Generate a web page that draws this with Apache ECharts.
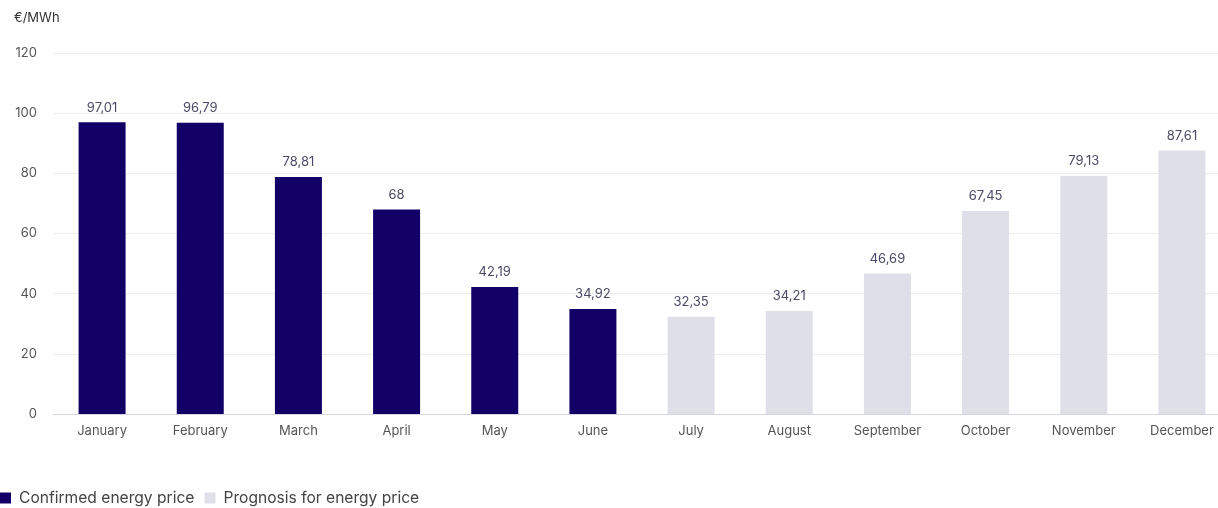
<!DOCTYPE html>
<html><head><meta charset="utf-8">
<script src="https://cdn.jsdelivr.net/npm/echarts@6/dist/echarts.min.js"></script>
<style>html,body{margin:0;padding:0;background:#fff}#c{width:1218px;height:508px}</style>
</head><body><div id="c"></div>
<script>
const categories = ['January','February','March','April','May','June','July','August','September','October','November','December'];
const confirmed = [97.01, 96.79, 78.81, 68, 42.19, 34.92, null, null, null, null, null, null];
const prognosis = [null, null, null, null, null, null, 32.35, 34.21, 46.69, 67.45, 79.13, 87.61];
const yTicks = {min: 0, max: 120, interval: 20};
const unitLabel = '€/MWh';

const fmt = p => String(p.value).replace('.', ',');
const labelStyle = {show: true, position: 'top', distance: 8, color: '#4a4a66', fontSize: 13, fontFamily: 'Inter', formatter: fmt};

const chart = echarts.init(document.getElementById('c'), null, {renderer: 'canvas'});
chart.setOption({
  animation: false,
  textStyle: {fontFamily: 'Inter'},
  title: {text: unitLabel, left: 9, top: 7, textStyle: {fontSize: 13, fontWeight: 'normal', color: '#333', fontFamily: 'Inter'}},
  legend: {
    left: 0, top: 490, padding: 0, itemWidth: 11, itemHeight: 11, itemGap: 10, icon: 'rect',
    textStyle: {fontSize: 15.6, color: '#444', fontFamily: 'Inter', padding: [0, 0, 0, 3]},
    data: ['Confirmed energy price', 'Prognosis for energy price']
  },
  grid: {left: 53, right: -13, top: 53, bottom: 94, outerBoundsMode: 'none', containLabel: false},
  xAxis: {
    type: 'category', data: categories,
    axisLine: {lineStyle: {color: '#d4d4e4'}},
    axisTick: {show: false},
    axisLabel: {color: '#555', fontSize: 13, margin: 11, fontFamily: 'Inter'}
  },
  yAxis: {
    type: 'value', min: yTicks.min, max: yTicks.max, interval: yTicks.interval,
    axisLine: {show: false}, axisTick: {show: false},
    axisLabel: {color: '#555', fontSize: 13, margin: 16, fontFamily: 'Inter'},
    splitLine: {lineStyle: {color: '#ececf1'}}
  },
  series: [
    {name: 'Confirmed energy price', type: 'bar', stack: 's', data: confirmed, barWidth: 47, itemStyle: {color: '#120066'}, label: labelStyle},
    {name: 'Prognosis for energy price', type: 'bar', stack: 's', data: prognosis, barWidth: 47, itemStyle: {color: '#dfdfea'}, label: labelStyle}
  ]
});
</script></body></html>
